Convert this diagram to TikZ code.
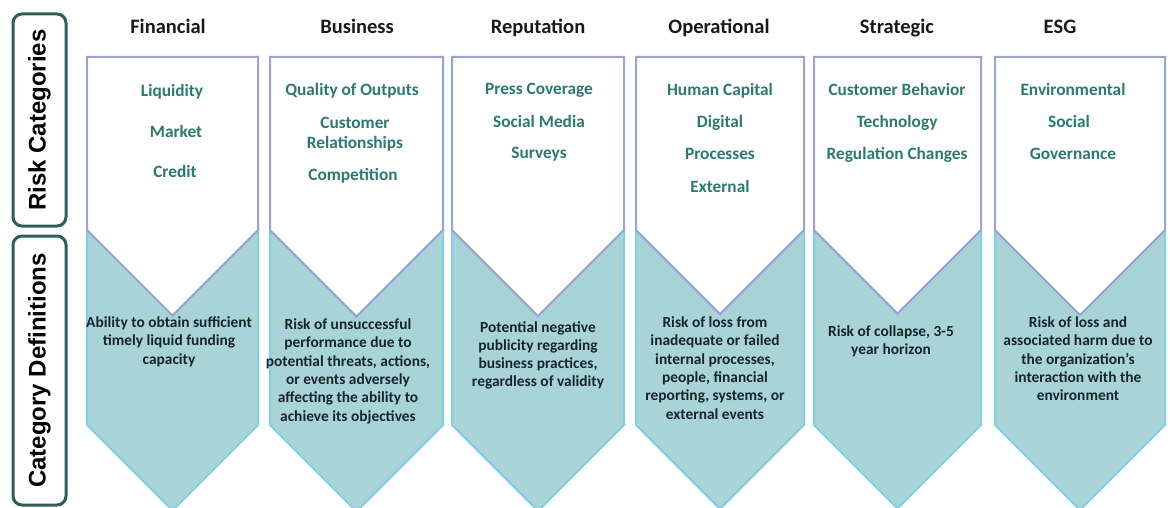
\documentclass[tikz,border=0pt]{standalone}
\usepackage{fontspec}
\setmainfont{Carlito}
\newfontfamily\sidefont{Liberation Sans}
\usetikzlibrary{positioning}

\definecolor{tealfill}{HTML}{A8D4D8}
\definecolor{tealedge}{HTML}{80CFE6}
\definecolor{lavedge}{HTML}{9AA2D6}
\definecolor{itemgreen}{HTML}{2B7A6E}
\definecolor{deftext}{HTML}{17252B}
\definecolor{sideedge}{HTML}{2D5F59}

\tikzset{
  catpart/.style={fill=white, draw=lavedge, line width=2pt, line join=miter},
  defpart/.style={fill=tealfill, draw=tealedge, line width=2pt},
  head/.style={font=\fontsize{20.5}{24}\selectfont\bfseries, text=black!90, anchor=base, inner sep=0pt},
  item/.style={font=\fontsize{17.3}{20}\selectfont\bfseries, text=itemgreen, anchor=base, inner sep=0pt, align=center},
  defn/.style={font=\fontsize{15.4}{18.3}\selectfont\bfseries, text=deftext, anchor=north, inner sep=0pt, align=center},
  sidebox/.style={draw=sideedge, line width=3pt, rounded corners=9pt, rotate=90, minimum height=53pt,
    font=\sidefont\fontsize{24}{28}\selectfont\bfseries},
}

\begin{document}
\begin{tikzpicture}[x=1pt, y=-1pt]
  \useasboundingbox (0,0) rectangle (1170,508);

  % Row labels
  \node[sidebox, minimum width=212pt] (rowcat) at (39.5,120) {Risk Categories};
  \node[sidebox, minimum width=269pt] (rowdef) at (39.5,370.5) {Category Definitions};

  % Columns: white pentagon on top, teal chevron below
  \foreach \l/\w in {87/171,270/173,452/172,636/168,814/167,995/170}{
    \pgfmathsetmacro\r{\l+\w}
    \pgfmathsetmacro\c{\l+\w/2}
    \pgfmathsetmacro\d{\w/2}
    \filldraw[defpart] (\l,230) -- (\c,230+\d) -- (\r,230) -- (\r,425) -- (\c,425+\d) -- (\l,425) -- cycle;
    \filldraw[catpart] (\l,57) -- (\r,57) -- (\r,230) -- (\c,230+\d) -- (\l,230) -- cycle;
  }

  % Headers
  \node[head] (hFin) at (168,34) {Financial};
  \node[head] (hBus) at (357,34) {Business};
  \node[head] (hRep) at (538,34) {Reputation};
  \node[head] (hOps) at (719,34) {Operational};
  \node[head] (hStr) at (897,34) {Strategic};
  \node[head] (hEsg) at (1060,34) {ESG};

  % Risk categories
  \node[item] (fin1) at (172,97) {Liquidity};
  \node[item] (fin2) at (176,138) {Market};
  \node[item] (fin3) at (175,178) {Credit};

  \node[item] (bus1) at (352,96) {Quality of Outputs};
  \node[item, anchor=north] (bus2) at (355,117) {Customer\\Relationships};
  \node[item] (bus3) at (353,180) {Competition};

  \node[item] (rep1) at (539,95) {Press Coverage};
  \node[item] (rep2) at (539,128) {Social Media};
  \node[item] (rep3) at (539,159) {Surveys};

  \node[item] (ops1) at (720,96) {Human Capital};
  \node[item] (ops2) at (720,128) {Digital};
  \node[item] (ops3) at (720,160) {Processes};
  \node[item] (ops4) at (720,193) {External};

  \node[item] (str1) at (897,96) {Customer Behavior};
  \node[item] (str2) at (897,128) {Technology};
  \node[item] (str3) at (897,160) {Regulation Changes};

  \node[item] (esg1) at (1073,96) {Environmental};
  \node[item] (esg2) at (1069,128) {Social};
  \node[item] (esg3) at (1073,160) {Governance};

  % Definitions
  \node[defn] (dFin) at (169,316.5) {Ability to obtain sufficient\\timely liquid funding\\capacity};
  \node[defn] (dBus) at (348,318.5) {Risk of unsuccessful\\performance due to\\potential threats, actions,\\or events adversely\\affecting the ability to\\achieve its objectives};
  \node[defn] (dRep) at (538,321) {Potential negative\\publicity regarding\\business practices,\\regardless of validity};
  \node[defn] (dOps) at (715,316.5) {Risk of loss from\\inadequate or failed\\internal processes,\\people, financial\\reporting, systems, or\\external events};
  \node[defn] (dStr) at (891,325.5) {Risk of collapse, 3-5\\year horizon};
  \node[defn] (dEsg) at (1078,316.5) {Risk of loss and\\associated harm due to\\the organization’s\\interaction with the\\environment};
\end{tikzpicture}
\end{document}
